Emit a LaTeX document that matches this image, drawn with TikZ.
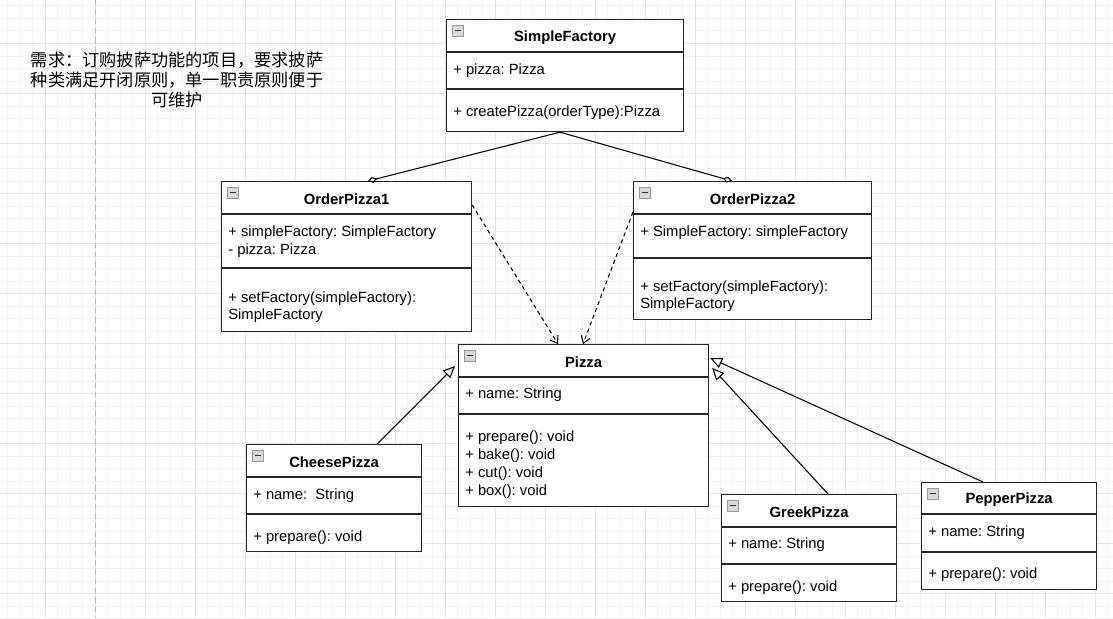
\documentclass[tikz,border=0pt]{standalone}
\usepackage{fontspec}
\setmainfont{Liberation Sans}
\newfontfamily\cjk{Noto Sans CJK SC}
\usetikzlibrary{calc,arrows.meta}
\frenchspacing
\tikzset{
  clsbox/.style={draw=black!85, line width=0.9pt, fill=white, anchor=north west, inner sep=0pt},
  divline/.style={draw=black!85, line width=0.9pt},
  ttl/.style={font=\fontsize{11.1pt}{13pt}\selectfont\bfseries, inner sep=0pt},
  mem/.style={font=\fontsize{11.1pt}{13pt}\selectfont, anchor=west, inner sep=0pt},
  agg/.style={line width=0.8pt, -{Diamond[open, length=7pt, width=4.5pt]}},
  dep/.style={line width=0.8pt, dash pattern=on 3pt off 2.5pt, -{Straight Barb[length=5pt, width=7pt]}},
  inh/.style={line width=0.8pt, -{Triangle[open, length=9pt, width=8pt, fill=white]}},
}
\newcommand\umlcls[8]{% name x y w h headeroffset divideroffset title
  \node[clsbox, minimum width=#4*0.75pt, minimum height=#5*0.75pt] (#1) at (#2,#3) {};
  \draw[divline] ($(#1.north west)+(0,#6)$) -- ($(#1.north east)+(0,#6)$);
  \draw[divline] ($(#1.north west)+(0,#7)$) -- ($(#1.north east)+(0,#7)$);
  \draw[draw=gray!80, fill=gray!30, line width=0.5pt] ($(#1.north west)+(6,6)$) rectangle ($(#1.north west)+(17,17)$);
  \draw[black!80, line width=0.8pt] ($(#1.north west)+(8.5,11.5)$) -- ($(#1.north west)+(14.5,11.5)$);
  \node[ttl] (#1-t) at ($(#1.north)+(0,#6/2+2)$) {#8};
}
\newcommand\mline[4]{\node[mem] (#1) at ($(#2.north west)+(7,#3+2)$) {#4};}
\begin{document}
\begin{tikzpicture}[x=0.75pt, y=-0.75pt]
\useasboundingbox (0,0) rectangle (1113,618);
\fill[white] (0,0) rectangle (1113,618);
% grid
\foreach \i in {0,...,90} {
  \pgfmathsetmacro\xx{7.5+12.5*\i}
  \draw[gray!10, line width=0.5pt] (\xx,0) -- (\xx,618);
}
\foreach \i in {0,...,50} {
  \pgfmathsetmacro\yy{-6.67+12.5*\i}
  \draw[gray!10, line width=0.5pt] (0,\yy) -- (1113,\yy);
}
\foreach \i in {0,...,22} {
  \pgfmathsetmacro\xx{45+50*\i}
  \draw[gray!20, line width=0.5pt] (\xx,0) -- (\xx,618);
}
\foreach \i in {0,...,12} {
  \pgfmathsetmacro\yy{43.33+50*\i}
  \draw[gray!20, line width=0.5pt] (0,\yy) -- (1113,\yy);
}
\draw[gray!55, line width=0.7pt, dash pattern=on 4pt off 3pt] (95,0) -- (95,618);

% note
\node[font=\cjk\fontsize{12.9pt}{15pt}\selectfont, align=center, inner sep=0pt] (note) at (177,80)
  {需求：订购披萨功能的项目，要求披萨\\种类满足开闭原则，单一职责原则便于\\可维护};

% classes
\umlcls{sf}{446}{19}{237}{112}{33}{70}{SimpleFactory}
\mline{sf1}{sf}{50}{+ pizza: Pizza}
\mline{sf2}{sf}{92}{+ createPizza(orderType):Pizza}

\umlcls{opa}{221}{181}{250}{150}{33}{87}{OrderPizza1}
\mline{opa1}{opa}{50}{+ simpleFactory: SimpleFactory}
\mline{opa2}{opa}{68}{- pizza: Pizza}
\mline{opa3}{opa}{116}{+ setFactory(simpleFactory):}
\mline{opa4}{opa}{133}{SimpleFactory}

\umlcls{opb}{633}{181}{238}{138}{33}{77}{OrderPizza2}
\mline{opb1}{opb}{50}{+ SimpleFactory: simpleFactory}
\mline{opb3}{opb}{105}{+ setFactory(simpleFactory):}
\mline{opb4}{opb}{122}{SimpleFactory}

\umlcls{pz}{458}{344}{250}{162}{33}{70}{Pizza}
\mline{pz1}{pz}{49}{+ name: String}
\mline{pz2}{pz}{92}{+ prepare(): void}
\mline{pz3}{pz}{110}{+ bake(): void}
\mline{pz4}{pz}{128}{+ cut(): void}
\mline{pz5}{pz}{146}{+ box(): void}

\umlcls{ch}{246}{444}{175}{107}{33}{70}{CheesePizza}
\mline{ch1}{ch}{50}{+ name:\ \ String}
\mline{ch2}{ch}{92}{+ prepare(): void}

\umlcls{gr}{721}{494}{175}{107}{33}{70}{GreekPizza}
\mline{gr1}{gr}{49}{+ name: String}
\mline{gr2}{gr}{92}{+ prepare(): void}

\umlcls{pp}{921}{482}{175}{107}{32}{70}{PepperPizza}
\mline{pp1}{pp}{49}{+ name: String}
\mline{pp2}{pp}{91}{+ prepare(): void}

% connectors
\draw[agg] ($(sf.south west)+(114,0)$) -- ($(opa.north west)+(147,0)$);
\draw[agg] ($(sf.south west)+(114,0)$) -- ($(opb.north west)+(99,0)$);
\draw[dep] ($(opa.north east)+(0,24)$) -- ($(pz.north west)+(100,0)$);
\draw[dep] ($(opb.north west)+(0,31)$) -- ($(pz.north west)+(125,0)$);
\draw[inh] ($(ch.north west)+(131,0)$) -- ($(pz.north west)+(-3,22)$);
\draw[inh] ($(gr.north west)+(107,0)$) -- ($(pz.north east)+(3,24)$);
\draw[inh] ($(pp.north west)+(62,0)$) -- ($(pz.north east)+(1,14)$);
\end{tikzpicture}
\end{document}
